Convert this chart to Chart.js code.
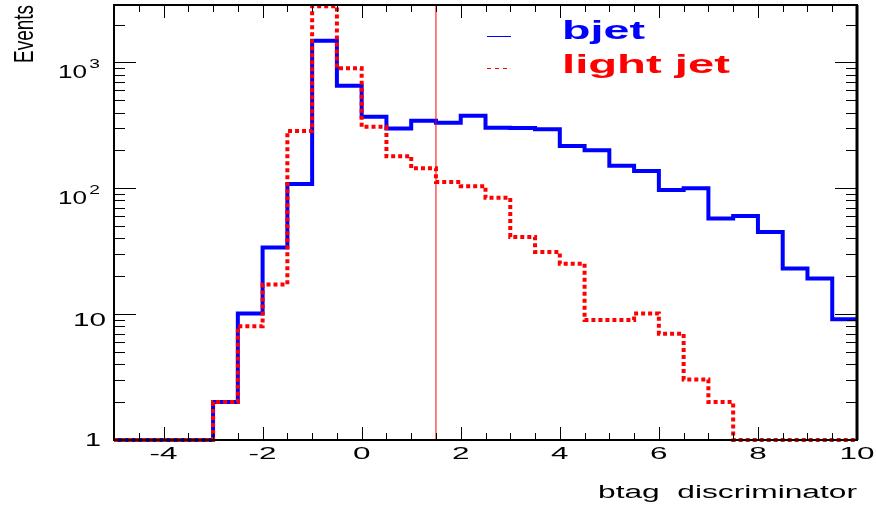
<!DOCTYPE html>
<html>
<head>
<meta charset="utf-8">
<script src="https://cdn.jsdelivr.net/npm/chart.js@4.4.0/dist/chart.umd.min.js"></script>
<style>
  body { margin: 0; background: #fff; }
  #wrap { width: 876px; height: 508px; }
</style>
</head>
<body>
<div id="wrap"><canvas id="myChart" width="876" height="508"></canvas></div>
<script>
// lower edge of each bin, width 0.5
const binLow = [-5, -4.5, -4, -3.5, -3, -2.5, -2, -1.5, -1, -0.5, 0, 0.5, 1, 1.5, 2, 2.5, 3, 3.5, 4, 4.5, 5, 5.5, 6, 6.5, 7, 7.5, 8, 8.5, 9, 9.5]
const xMin = -5
const xMax = 10
const yMin = 1
const yMax = 2860

const bjet = [1, 1, 1, 1, 2.0, 10.1, 33.8, 108, 1489, 653, 370, 299, 344, 331, 377, 303, 301, 295, 217, 201, 151, 137, 97, 100, 57.5, 60.3, 45, 23, 19.2, 9.1]
const lightjet = [1, 1, 1, 1, 2.0, 8.0, 17.2, 285, 2800, 898, 308, 180, 144, 112, 104, 84, 41, 31.2, 25.2, 9.0, 9.0, 10.1, 7.0, 3.03, 2.0, 1, 1, 1, 1, 1]
const cutValue = 1.5

const xTickLabels = [-4, -2, 0, 2, 4, 6, 8, 10]
const yTickLabels = [1, 10, 100, 1000]

function stepPoints(vals) {
    let pts = binLow.map((x, i) => ({ x: x, y: vals[i] }))
    pts.push({ x: xMax, y: vals[vals.length - 1] })
    return pts
}

function stretchText(ctx, text, x, y, sx, align) {
    ctx.save()
    ctx.translate(x, y)
    ctx.scale(sx, 1)
    ctx.textAlign = align
    ctx.fillText(text, 0, 0)
    ctx.restore()
}

function fitText(ctx, text, x, y, width, align) {
    let w = ctx.measureText(text).width
    stretchText(ctx, text, x, y, width / w, align)
}

// frame, inside ticks and all text drawn ROOT style
const rootStyle = {
    id: 'rootStyle',
    afterDraw(chart) {
        const ctx = chart.ctx
        const a = chart.chartArea
        const xs = chart.scales.x
        const ys = chart.scales.y

        ctx.save()
        ctx.strokeStyle = '#000'
        ctx.lineWidth = 1
        ctx.beginPath()
        // x ticks, bottom and top
        for (let v = xMin; v <= xMax + 0.001; v += 0.5) {
            let px = Math.round(xs.getPixelForValue(v)) + 0.5
            let len = xTickLabels.includes(v) ? 13 : 7
            ctx.moveTo(px, a.bottom); ctx.lineTo(px, a.bottom - len)
            ctx.moveTo(px, a.top); ctx.lineTo(px, a.top + len)
        }
        // y ticks, left and right
        for (let d = 1; d <= 1000; d *= 10) {
            for (let k = 1; k <= 9; k++) {
                let v = k * d
                if (v > yMax) break
                let py = Math.round(ys.getPixelForValue(v)) + 0.5
                let len = k === 1 ? 22 : 11
                ctx.moveTo(a.left, py); ctx.lineTo(a.left + len, py)
                ctx.moveTo(a.right, py); ctx.lineTo(a.right - len, py)
            }
        }
        ctx.stroke()

        ctx.lineWidth = 2
        ctx.strokeRect(a.left, a.top, a.right - a.left, a.bottom - a.top)
        ctx.lineWidth = 3
        ctx.beginPath()
        ctx.moveTo(a.right, a.top); ctx.lineTo(a.right, a.bottom)
        ctx.stroke()

        // tick labels
        ctx.fillStyle = '#000'
        ctx.textBaseline = 'alphabetic'
        ctx.font = '17px "Liberation Sans", Arial, sans-serif'
        xTickLabels.forEach(v => {
            let px = xs.getPixelForValue(v)
            stretchText(ctx, String(v), px, a.bottom + 19, 1.85, 'center')
        })
        yTickLabels.forEach(v => {
            let py = ys.getPixelForValue(v)
            let e = Math.round(Math.log10(v))
            ctx.font = '18px "Liberation Sans", Arial, sans-serif'
            if (e === 0) {
                stretchText(ctx, '1', 101, py + 6, 1.6, 'right')
            } else if (e === 1) {
                stretchText(ctx, '10', 106, py + 12, 1.65, 'right')
            } else {
                stretchText(ctx, '10', 87, py + 16, 1.45, 'right')
                ctx.font = '12px "Liberation Sans", Arial, sans-serif'
                stretchText(ctx, String(e), 100, py + 6, 1.6, 'right')
            }
        })

        // axis titles
        ctx.font = '18px "Liberation Sans", Arial, sans-serif'
        fitText(ctx, 'btag  discriminator', 857, 498, 259, 'right')

        ctx.save()
        ctx.translate(33, 34)
        ctx.rotate(-Math.PI / 2)
        ctx.scale(1, 1.5)
        ctx.font = '19px "Liberation Sans", Arial, sans-serif'
        ctx.textAlign = 'center'
        ctx.fillText('Events', 0, 0)
        ctx.restore()

        // legend
        ctx.lineWidth = 1
        ctx.strokeStyle = '#0000ff'
        ctx.beginPath()
        ctx.moveTo(487, 36.5); ctx.lineTo(511, 36.5)
        ctx.stroke()
        ctx.strokeStyle = '#ff0000'
        ctx.setLineDash([4, 4])
        ctx.beginPath()
        ctx.moveTo(487, 68.5); ctx.lineTo(511, 68.5)
        ctx.stroke()
        ctx.setLineDash([])

        ctx.font = 'bold 26px "Liberation Sans", Arial, sans-serif'
        ctx.fillStyle = '#0000ff'
        fitText(ctx, chart.data.datasets[2].label, 562, 39, 83, 'left')
        ctx.fillStyle = '#ff0000'
        fitText(ctx, chart.data.datasets[1].label, 562, 73, 168, 'left')
        ctx.restore()
    }
}

const ctx = document.getElementById('myChart')
new Chart(ctx, {
    type: 'line',
    data: {
        datasets: [{
            label: 'cut',
            data: [{ x: cutValue, y: yMin }, { x: cutValue, y: yMax }],
            borderColor: '#ff0000',
            borderWidth: 1,
            pointRadius: 0,
            order: 0
        }, {
            label: 'light jet',
            data: stepPoints(lightjet),
            stepped: 'before',
            borderColor: '#ff0000',
            borderWidth: 4,
            borderDash: [4, 3],
            borderCapStyle: 'butt',
            borderJoinStyle: 'miter',
            pointRadius: 0,
            clip: false,
            order: 1
        }, {
            label: 'bjet',
            data: stepPoints(bjet),
            stepped: 'before',
            borderColor: '#0000ff',
            borderWidth: 4,
            borderCapStyle: 'butt',
            borderJoinStyle: 'miter',
            pointRadius: 0,
            clip: false,
            order: 2
        }]
    },
    options: {
        responsive: false,
        animation: false,
        layout: { padding: { left: 114, right: 19, top: 5, bottom: 68 } },
        plugins: { legend: { display: false }, tooltip: { enabled: false } },
        scales: {
            x: { type: 'linear', min: xMin, max: xMax, display: false },
            y: { type: 'logarithmic', min: yMin, max: yMax, display: false }
        }
    },
    plugins: [rootStyle]
});
</script>
</body>
</html>
